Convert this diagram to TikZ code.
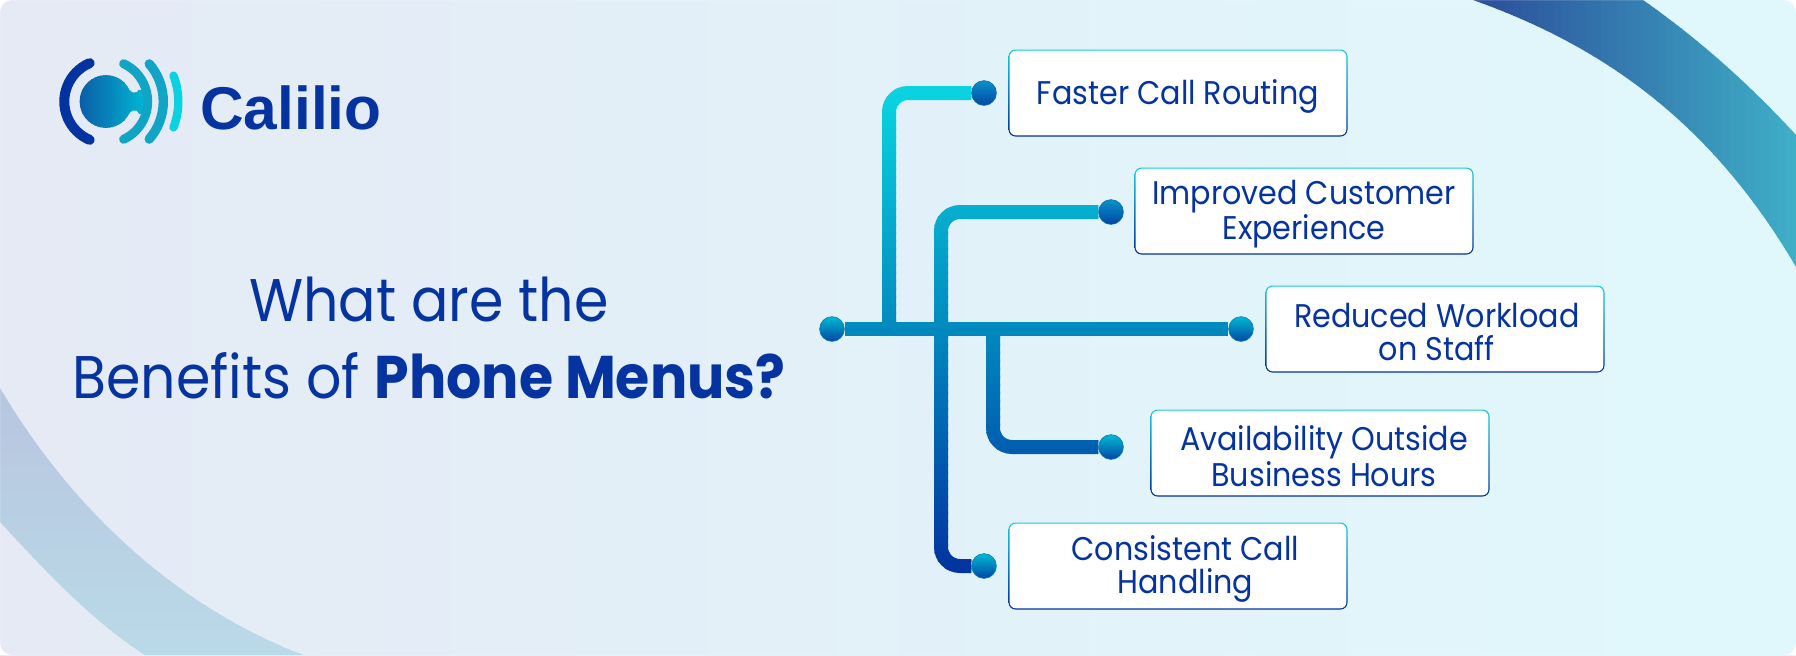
\documentclass[tikz,border=0pt]{standalone}
\usepackage{fontspec}
\setmainfont[FakeStretch=0.92]{Poppins}
\newfontfamily\logofont{Liberation Sans}
\usetikzlibrary{calc}
\usetikzlibrary{backgrounds}
\definecolor{ink}{HTML}{0533A0}
\definecolor{page_left}{HTML}{E5EAF5}
\definecolor{page_right}{HTML}{E0F8FC}
\definecolor{link_top}{HTML}{0AD2E0}
\definecolor{link_mid}{HTML}{0088BE}
\definecolor{link_bottom}{HTML}{0333A0}
\definecolor{box_top}{HTML}{19CBD9}
\definecolor{box_bottom}{HTML}{03309A}
\definecolor{ball_top}{HTML}{00BAD4}
\definecolor{ball_upper}{HTML}{0A92C8}
\definecolor{ball_bottom}{HTML}{0246A2}
\definecolor{arc_left}{HTML}{2B4E9A}
\definecolor{arc_right}{HTML}{3FB0C8}
\definecolor{swoosh_top}{HTML}{B7C6DF}
\definecolor{swoosh_bottom}{HTML}{BADAE8}
\definecolor{logo_dark}{HTML}{0A5FA8}
\definecolor{logo_teal}{HTML}{10A5C5}
\definecolor{logo_cyan}{HTML}{00BCD6}
\definecolor{logo_light}{HTML}{0BD2E0}
\tikzstyle{benefit}=[rounded corners=3.5pt, minimum width=169.5pt, minimum height=43.5pt, inner sep=0,
  top color=box_top, bottom color=box_bottom,
  path picture={\fill[white, rounded corners=3pt]
    ($(path picture bounding box.south west)+(.6pt,.6pt)$) rectangle ($(path picture bounding box.north east)-(.6pt,.6pt)$);}]
\tikzstyle{benefit text}=[text=ink, align=center, yshift=-1.5pt, font=\fontsize{16.4}{16.6}\selectfont]
\tikzstyle{ball}=[circle, minimum size=12.4pt, inner sep=0, top color=ball_top, bottom color=ball_bottom,
  draw=ball_top!50!ball_bottom, line width=.3pt]
\tikzstyle{upper ball}=[ball, top color=ball_upper, draw=ball_upper!50!ball_bottom]
\tikzstyle{link}=[line width=7pt, rounded corners=9.5pt]

\begin{document}
\begin{tikzpicture}[x=.5pt, y=-.5pt]
  \useasboundingbox (0, 0) rectangle (1796, 655);

  \node[ball] (dot_start) at (832, 329) {};
  \node[upper ball] (dot_routing) at (984, 93) {};
  \node[upper ball] (dot_experience) at (1111, 212) {};
  \node[ball] (dot_workload) at (1241, 329) {};
  \node[ball] (dot_hours) at (1111, 447) {};
  \node[ball] (dot_handling) at (984, 566) {};

  \coordinate (join_routing) at (889, 329);
  \coordinate (join_experience) at (941, 329);
  \coordinate (join_hours) at (993, 329);

  \node[benefit, label={[benefit text]center:{Faster Call Routing}}] (routing) at (1178, 93) {};
  \node[benefit, label={[benefit text]center:{Improved Customer\\Experience}}] (experience) at (1304, 211) {};
  \node[benefit, label={[benefit text, xshift=.9pt]center:{Reduced Workload\\on Staff}}] (workload) at (1435, 329) {};
  \node[benefit, label={[benefit text, xshift=2pt]center:{Availability Outside\\Business Hours}}] (hours) at (1320, 453) {};
  \node[benefit, label={[benefit text, xshift=3.7pt]center:{Consistent Call\\Handling}}] (handling) at (1178, 566) {};

  \node[text=ink, align=center, font=\fontsize{30.1}{38.5}\selectfont] (title) at (429, 338)
    {What are the\\Benefits of \textbf{Phone Menus?}};
  \node[text=ink, font=\logofont\bfseries\fontsize{30.2}{31}\selectfont] (brand) at (291, 108) {Calilio};

  \begin{scope}[on background layer]
    \fill[left color=page_left, right color=page_right] (0, 0) rectangle (1796, 655);

    % the bands and links are sliced because their colour runs along them
    \foreach \xx in {1473, 1481, ..., 1796} {
      \pgfmathsetmacro{\mixval}{(\xx-1473)/3.23}
      \begin{scope}
        \clip (\xx, 0) rectangle (\xx+9, 300);
        \fill[arc_right!\mixval!arc_left] (1473, 0) .. controls (1600, 45) and (1710, 120) .. (1796, 267)
          -- (1796, 135) .. controls (1750, 85) and (1700, 40) .. (1643, 0) -- cycle;
      \end{scope}
    }
    \foreach \yy in {388, 396, ..., 655} {
      \pgfmathsetmacro{\mixval}{(\yy-388)/2.67}
      \begin{scope}
        \clip (0, \yy) rectangle (320, \yy+9);
        \fill[swoosh_bottom!\mixval!swoosh_top] (0, 388) .. controls (60, 490) and (160, 600) .. (303, 655)
          -- (145, 655) .. controls (90, 620) and (40, 565) .. (0, 522) -- cycle;
      \end{scope}
    }
    \fill[white, even odd rule] (0, 0) rectangle (1796, 655)
      [rounded corners=6pt] (0, 0) rectangle (1796, 655);

    \foreach \yy in {80, 88, ..., 584} {
      \pgfmathsetmacro{\upmix}{max(0, min(100, (329-\yy)/2.36))}
      \pgfmathsetmacro{\downmix}{max(0, min(100, (\yy-329)/2.37))}
      \colorlet{link_now}{link_top!\upmix!link_mid}
      \colorlet{link_now}{link_bottom!\downmix!link_now}
      \begin{scope}
        \clip (800, \yy) rectangle (1260, \yy+9);
        \draw[link, link_now] (dot_start) -- (dot_workload);
        \draw[link, link_now] (join_routing) |- (dot_routing);
        \draw[link, link_now] (join_experience) |- (dot_experience);
        \draw[link, link_now] (join_hours) |- (dot_hours);
        \draw[link, link_now] (join_experience) |- (dot_handling);
      \end{scope}
    }
  \end{scope}

  % logo
  \begin{scope}[shift={(106, 101.5)}, y=.5pt]
    \foreach \xx in {-27, -24, ..., 42} {
      \pgfmathsetmacro{\mixval}{(\xx+27)/0.69}
      \begin{scope}
        \clip (\xx, -30) rectangle (\xx+4, 30);
        \fill[logo_cyan!\mixval!logo_dark] (0, 0) circle (26.4);
        \fill[logo_cyan!\mixval!logo_dark] (15, -12) rectangle (42, 12);
      \end{scope}
    }
    \draw[page_left, line width=5pt, line cap=round] (42:31.5) arc[start angle=42, end angle=26, radius=31.5];
    \draw[page_left, line width=5pt, line cap=round] (-42:31.5) arc[start angle=-42, end angle=-26, radius=31.5];
    \draw[link_bottom, line width=5pt, line cap=round] (113:41.7) arc[start angle=113, end angle=247, radius=41.7];
    \draw[logo_teal, line width=4.5pt, line cap=round] (65:41.7) arc[start angle=65, end angle=-65, radius=41.7];
    \draw[logo_teal, line width=4.7pt, line cap=round] (41:57.3) arc[start angle=41, end angle=-41, radius=57.3];
    \draw[logo_light, line width=4.2pt, line cap=round] (21:72.3) arc[start angle=21, end angle=-21, radius=72.3];
  \end{scope}
\end{tikzpicture}
\end{document}
